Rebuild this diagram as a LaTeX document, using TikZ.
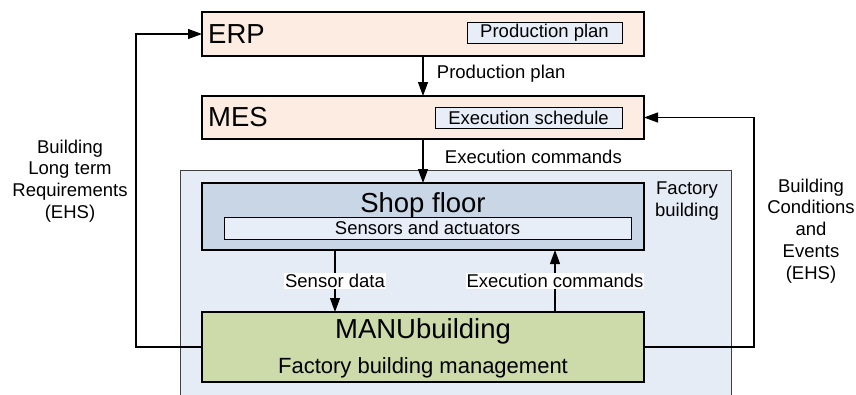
\documentclass[tikz,border=0pt]{standalone}
\usepackage{fontspec}
\setmainfont{Liberation Sans}
\usetikzlibrary{arrows.meta,positioning}

\definecolor{peach}{HTML}{FDECE1}
\definecolor{paleblue}{HTML}{E8EEF8}
\definecolor{factory}{HTML}{E6ECF6}
\definecolor{shopblue}{HTML}{C8D6E6}
\definecolor{manugreen}{HTML}{CCDBA9}

\begin{document}
\begin{tikzpicture}[x=1pt,y=-1pt,
  box/.style={draw,line width=1.5pt,inner sep=0pt,outer sep=0pt},
  subbox/.style={draw,line width=0.8pt,fill=paleblue,inner sep=0pt,outer sep=0pt},
  small/.style={font=\fontsize{18.5}{21.8}\selectfont},
  big/.style={font=\fontsize{27.5}{30}\selectfont},
  arr/.style={line width=1.2pt,-{Triangle[length=14pt,width=10pt]}}]

\useasboundingbox (0,0) rectangle (856,394);

\node[draw=black!75,line width=0.8pt,fill=factory,inner sep=0pt,
  minimum width=551pt,minimum height=226pt] (fb) at (455.5,283) {};
\node[small,align=center,anchor=north,inner sep=0pt] (fbtxt) at (687,182) {Factory\\building};

\node[box,fill=peach,minimum width=442pt,minimum height=44pt] (erp) at (423,34) {};
\node[big,anchor=west,inner sep=0pt] (erptxt) at ([xshift=6pt]erp.west) {ERP};
\node[subbox,small,minimum width=155pt,minimum height=21pt] (ppbox) at (544.5,32.5) {Production plan};

\node[box,fill=peach,minimum width=442pt,minimum height=43pt] (mes) at (423,117.5) {};
\node[big,anchor=west,inner sep=0pt] (mestxt) at ([xshift=6pt]mes.west) {MES};
\node[subbox,small,minimum width=187pt,minimum height=21pt] (esbox) at (528.5,117.5) {Execution schedule};

\node[box,fill=shopblue,minimum width=442pt,minimum height=67pt] (shop) at (423,216.5) {};
\node[big,anchor=base,inner sep=0pt] (shoptxt) at (423,212) {Shop floor};
\node[subbox,small,minimum width=407pt,minimum height=22pt] (sens) at (427.5,228) {Sensors and actuators};

\node[box,fill=manugreen,minimum width=442pt,minimum height=70pt] (manu) at (423,347) {};
\node[big,anchor=base,inner sep=0pt] (manutxt) at (423,338) {MANUbuilding};
\node[anchor=base,inner sep=0pt,font=\fontsize{22}{26}\selectfont] (mgmt) at (423,373) {Factory building management};

\draw[arr] (erp.south) -- node[small,midway,right=10pt,yshift=2pt] {Production plan} (mes.north);
\draw[arr] (mes.south) -- node[small,midway,right=18pt,yshift=4pt] {Execution commands} (shop.north);

\draw[arr] ([xshift=-88pt]shop.south) -- node[small,midway,fill=white,inner sep=1pt] {Sensor data} ([xshift=-88pt]manu.north);
\draw[arr] ([xshift=132pt]manu.north) -- node[small,midway,fill=white,inner sep=1pt] {Execution commands} ([xshift=132pt]shop.south);

\draw[arr] (manu.west) -- ++(-66,0) |- (erp.west);
\draw[arr] (manu.east) -- ++(110,0) |- (mes.east);

\node[small,align=center,anchor=north,inner sep=0pt] (req) at (70,139.5) {Building\\Long term\\Requirements\\(EHS)};
\node[small,align=center,anchor=north,inner sep=0pt] (cond) at (811,178.5) {Building\\Conditions\\and\\Events\\(EHS)};

\end{tikzpicture}
\end{document}
